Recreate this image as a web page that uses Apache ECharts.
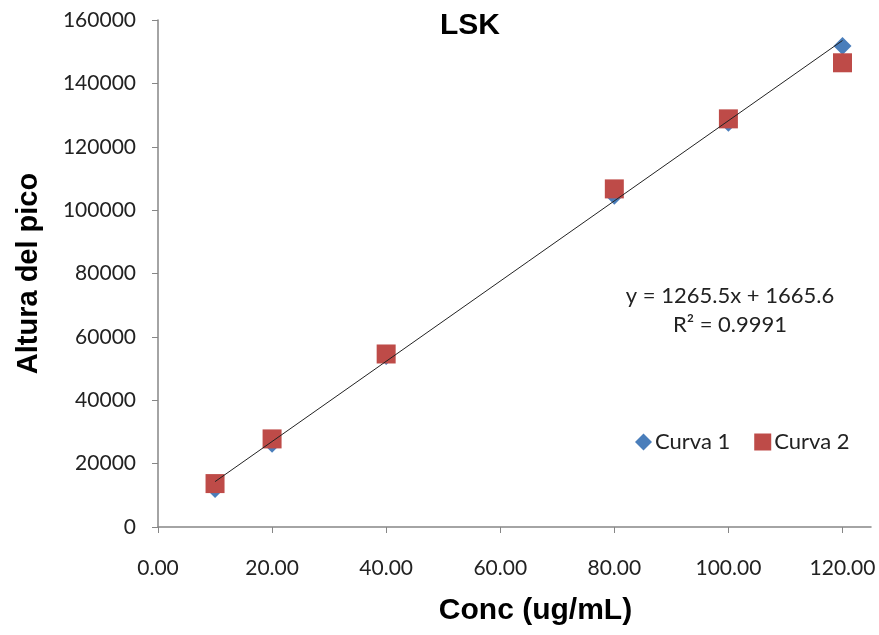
<!DOCTYPE html>
<html><head><meta charset="utf-8">
<script src="https://cdn.jsdelivr.net/npm/echarts@6/dist/echarts.min.js"></script>
<style>html,body{margin:0;padding:0;background:#fff}#c{width:879px;height:635px}</style>
</head><body><div id="c"></div>
<script>
var concentrations = [10, 20, 40, 80, 100, 120];
var curva1 = [12000, 26300, 54000, 104500, 127600, 151800];
var curva2 = [13700, 27800, 54600, 106700, 128800, 146500];
var trendSlope = 1265.5;
var trendIntercept = 1665.6;
var trendRange = [10, 120];
var yTicks = [0, 20000, 40000, 60000, 80000, 100000, 120000, 140000, 160000];
var xTicks = [0, 20, 40, 60, 80, 100, 120];

var chart = echarts.init(document.getElementById('c'));
var tickFont = 'Lato, "Open Sans", sans-serif';
var boldFont = '"Liberation Sans", Arial, sans-serif';
chart.setOption({
  animation: false,
  title: {
    text: 'LSK', left: 465, top: 6, textAlign: 'center',
    textStyle: { fontFamily: boldFont, fontSize: 30, fontWeight: 'bold', color: '#000' }
  },
  grid: { left: 158, right: 8, top: 20, bottom: 108 },
  legend: {
    left: 630, top: 426, itemGap: 24, itemWidth: 17, itemHeight: 17,
    data: [{ name: 'Curva 1', icon: 'diamond' }, { name: 'Curva 2', icon: 'rect' }],
    textStyle: { fontFamily: tickFont, fontSize: 22, color: '#222', padding: [0, 0, 0, -2] }
  },
  xAxis: {
    type: 'value', min: 0, max: 125, interval: 20,
    name: 'Conc (ug/mL)', nameLocation: 'middle', nameGap: 69,
    nameTextStyle: { fontFamily: boldFont, fontSize: 30, fontWeight: 'bold', color: '#000', padding: [0, 0, 0, 42] },
    axisLine: { show: true, lineStyle: { color: '#868686', width: 1.5 } },
    axisTick: { show: true, length: 6, lineStyle: { color: '#868686' } },
    splitLine: { show: false },
    axisLabel: {
      fontFamily: tickFont, fontSize: 21, color: '#222', margin: 31, showMaxLabel: false,
      formatter: function (v) { return xTicks.indexOf(v) >= 0 ? v.toFixed(2) : ''; }
    }
  },
  yAxis: {
    type: 'value', min: 0, max: 160000, interval: 20000,
    name: 'Altura del pico', nameLocation: 'middle', nameGap: 115, nameRotate: 90,
    nameTextStyle: { fontFamily: boldFont, fontSize: 29, fontWeight: 'bold', color: '#000' },
    axisLine: { show: true, lineStyle: { color: '#868686', width: 1.5 } },
    axisTick: { show: true, length: 6, lineStyle: { color: '#868686' } },
    splitLine: { show: false },
    axisLabel: {
      fontFamily: tickFont, fontSize: 21, color: '#222', margin: 22,
      formatter: function (v) { return yTicks.indexOf(v) >= 0 ? String(v) : ''; }
    }
  },
  graphic: [
    { type: 'text', x: 730, y: 296, style: { text: 'y = 1265.5x + 1665.6', fontFamily: tickFont, fontSize: 22, fill: '#222', align: 'center', verticalAlign: 'middle' } },
    { type: 'text', x: 730, y: 325, style: { text: 'R² = 0.9991', fontFamily: tickFont, fontSize: 22, fill: '#222', align: 'center', verticalAlign: 'middle' } }
  ],
  series: [
    {
      name: 'Trend', type: 'line', showSymbol: false, symbol: 'none', silent: true, z: 3,
      lineStyle: { color: '#222', width: 1 },
      data: trendRange.map(function (x) { return [x, trendSlope * x + trendIntercept]; })
    },
    {
      name: 'Curva 1', type: 'scatter', symbol: 'diamond', symbolSize: 18, z: 2,
      itemStyle: { color: '#4A7EBB', opacity: 1 },
      data: concentrations.map(function (x, i) { return [x, curva1[i]]; })
    },
    {
      name: 'Curva 2', type: 'scatter', symbol: 'rect', symbolSize: 19, z: 2,
      itemStyle: { color: '#BE4B48', opacity: 1 },
      data: concentrations.map(function (x, i) { return [x, curva2[i]]; })
    }
  ]
});
</script></body></html>
